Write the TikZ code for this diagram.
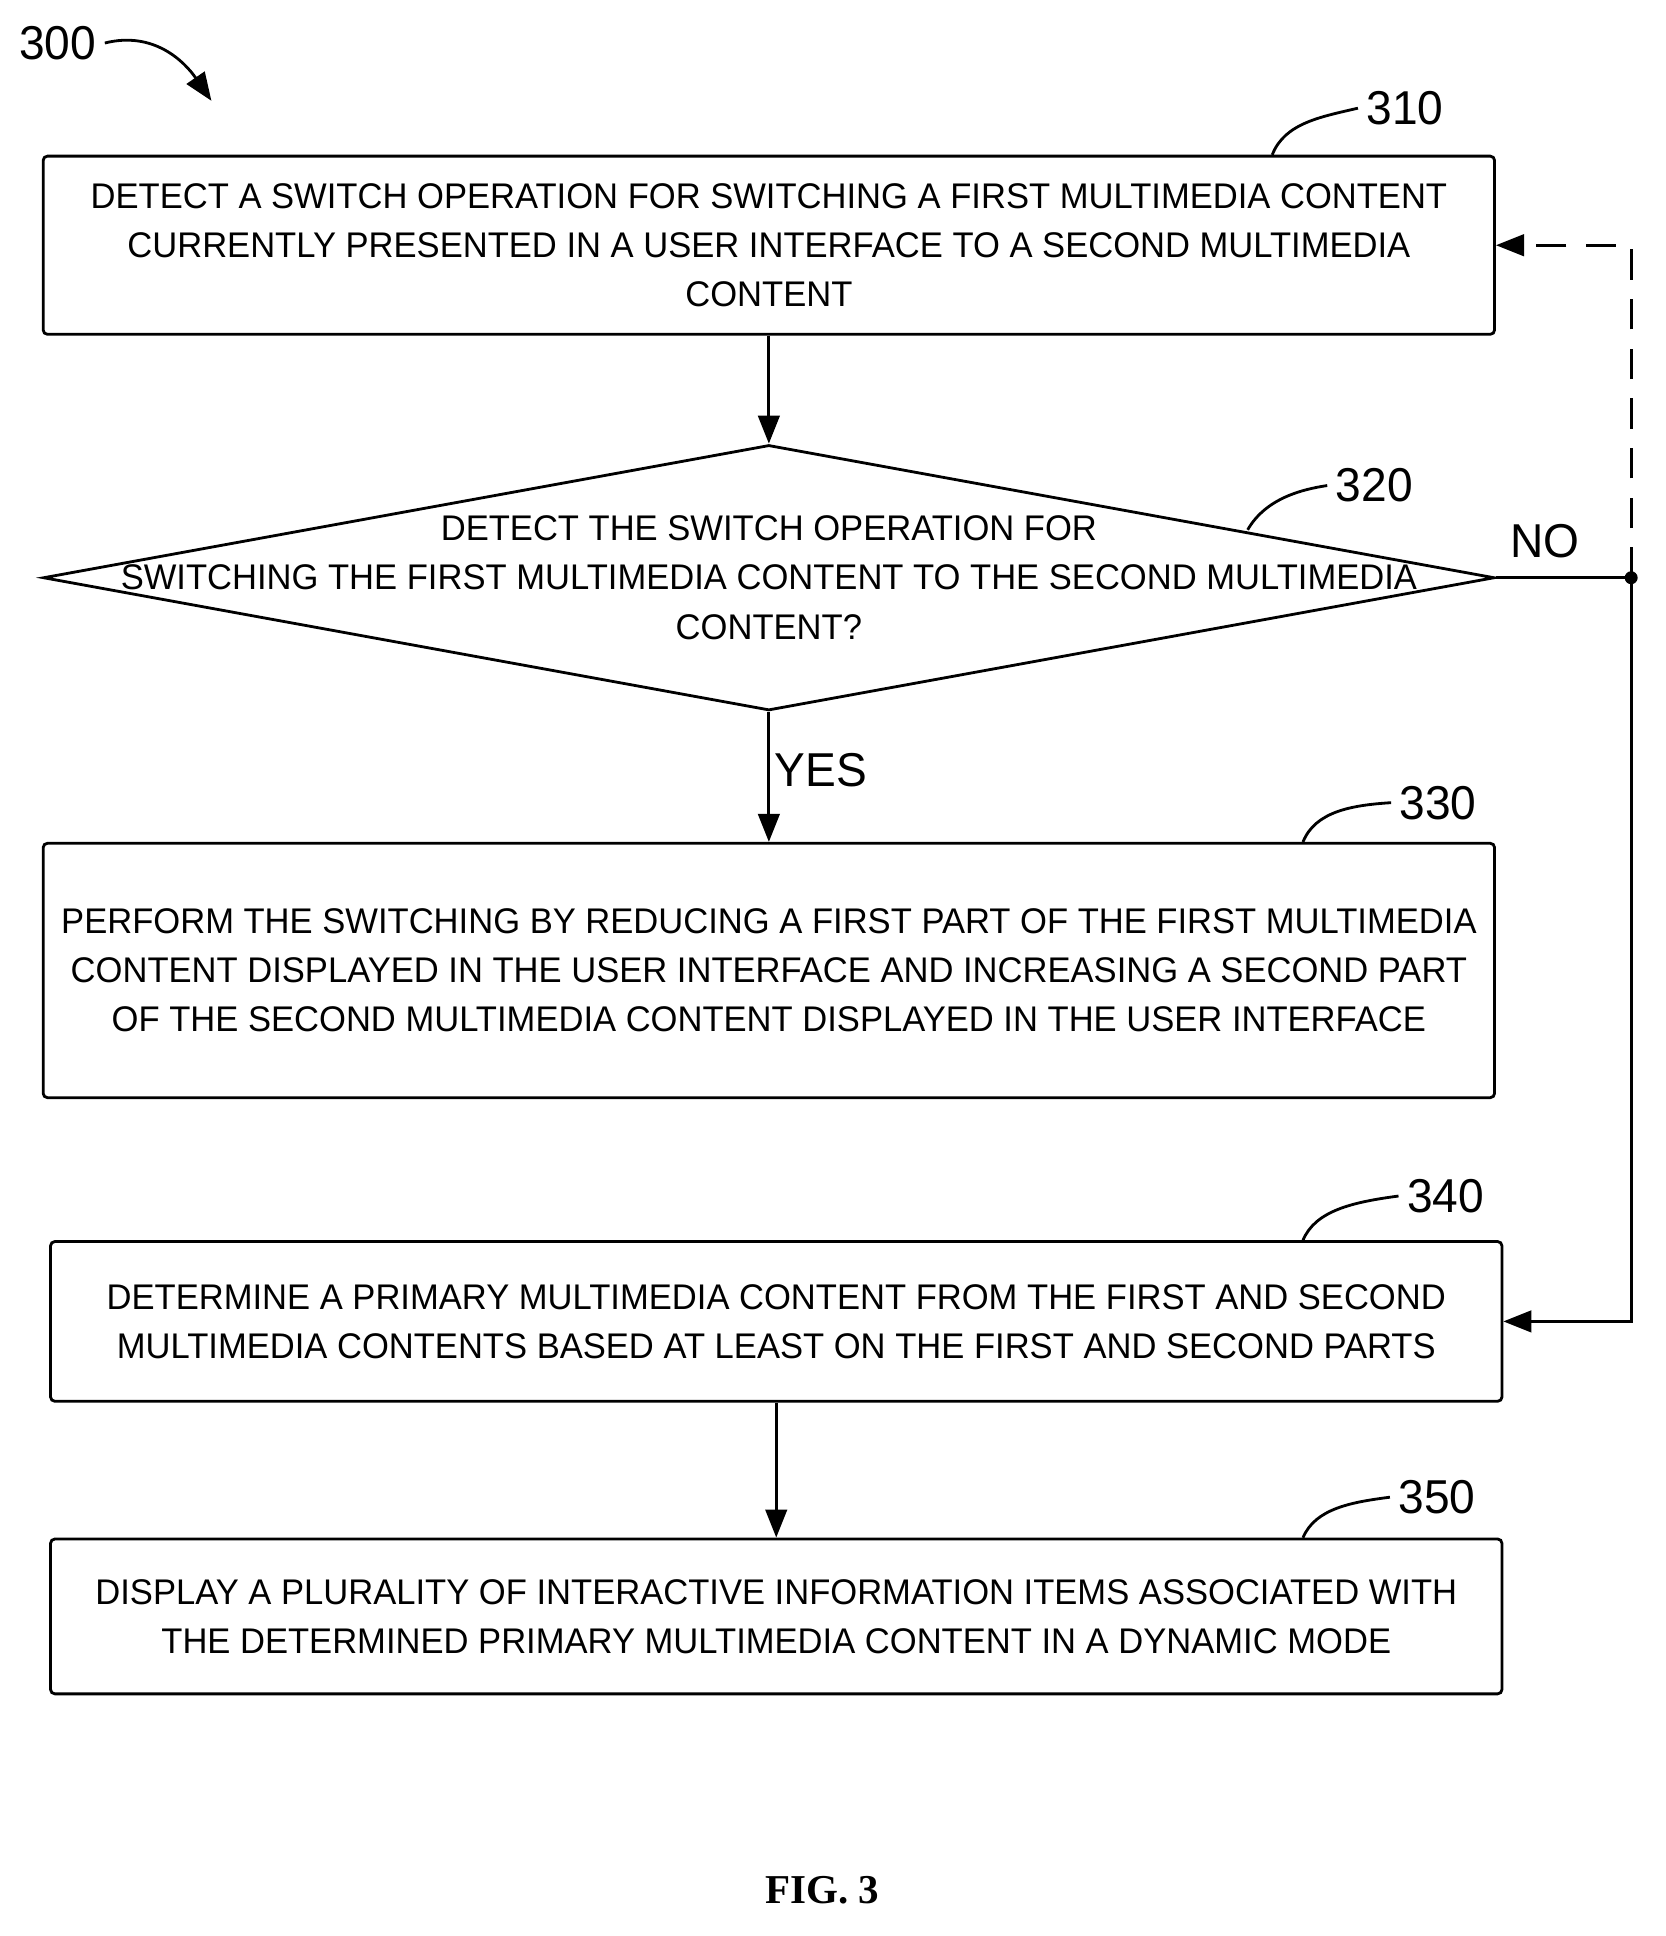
\documentclass[tikz,border=0pt]{standalone}
\usepackage{fontspec}
\setmainfont{Liberation Sans}[FakeStretch=0.97]
\newfontfamily\figfont{Liberation Serif}
\usetikzlibrary{shapes.geometric,arrows.meta}
\begin{document}
\begin{tikzpicture}[x=0.02cm,y=-0.02cm,line width=1.3pt,
	stepbox/.style={draw, rounded corners=2pt, minimum width=23.62cm, align=center,
		font=\fontsize{16.5}{22.7}\selectfont},
	ref/.style={font=\fontsize{22}{24}\selectfont},
	flow/.style={-{Triangle[length=13pt,width=10pt]}}]
	\useasboundingbox (0,0) rectangle (1355,1575);
	% Numero della figura
	\node[ref] (n300) at (47,35) {300};
	\coordinate (p300) at (172,82);
	\draw[flow] (n300.east) .. controls (125,25) and (150,50) .. (p300);
	
	% Blocco 310
	\node[stepbox, minimum height=2.9cm] (s310) at (625.5,199.5) {DETECT A SWITCH OPERATION FOR SWITCHING A FIRST MULTIMEDIA CONTENT\\CURRENTLY PRESENTED IN A USER INTERFACE TO A SECOND MULTIMEDIA\\CONTENT};
	\node[ref] (n310) at (1143,88) {310};
	\draw (1035,126) .. controls (1045,100) and (1075,95) .. (n310.west);
	
	% Rombo 320
	\node[diamond, draw, minimum width=23.62cm, minimum height=4.32cm, inner sep=0pt] (s320) at (625.5,470) {};
	\node[align=center, font=\fontsize{16.5}{22.7}\selectfont] (t320) at (625.5,470) {DETECT THE SWITCH OPERATION FOR\\SWITCHING THE FIRST MULTIMEDIA CONTENT TO THE SECOND MULTIMEDIA\\CONTENT?};
	\node[ref] (n320) at (1118,395) {320};
	\draw (1015,431) .. controls (1030,405) and (1060,398) .. (n320.west);
	\draw[flow] (s310.south) -- (s320.north);
	
	% Blocco 330
	\node[stepbox, minimum height=4.14cm] (s330) at (625.5,789.5) {PERFORM THE SWITCHING BY REDUCING A FIRST PART OF THE FIRST MULTIMEDIA\\CONTENT DISPLAYED IN THE USER INTERFACE AND INCREASING A SECOND PART\\OF THE SECOND MULTIMEDIA CONTENT DISPLAYED IN THE USER INTERFACE};
	\node[ref] (n330) at (1170,653) {330};
	\draw (1060,685) .. controls (1070,660) and (1100,655) .. (n330.west);
	\draw[flow] (s320.south) -- (s330.north) node[pos=0.45, right, ref, inner sep=2pt] (yes) {YES};
	
	% Blocco 340
	\node[stepbox, minimum height=2.6cm] (s340) at (631.5,1075) {DETERMINE A PRIMARY MULTIMEDIA CONTENT FROM THE FIRST AND SECOND\\MULTIMEDIA CONTENTS BASED AT LEAST ON THE FIRST AND SECOND PARTS};
	\node[ref] (n340) at (1176,973) {340};
	\draw (1060,1009) .. controls (1070,985) and (1100,978) .. (n340.west);
	
	% Ramo NO
	\coordinate (j320) at (1327,470);
	\fill (j320) circle (3pt);
	\node[ref] (no) at (1257,440) {NO};
	\draw (s320.east) -- (j320);
	\draw[flow] (j320) |- (s340.east);
	\draw[flow, dash pattern=on 14pt off 9pt] (j320) |- (s310.east);
	
	% Blocco 350
	\node[stepbox, minimum height=2.52cm] (s350) at (631.5,1315) {DISPLAY A PLURALITY OF INTERACTIVE INFORMATION ITEMS ASSOCIATED WITH\\THE DETERMINED PRIMARY MULTIMEDIA CONTENT IN A DYNAMIC MODE};
	\node[ref] (n350) at (1169,1218) {350};
	\draw (1060,1251) .. controls (1070,1227) and (1100,1222) .. (n350.west);
	\draw[flow] (s340.south) -- (s350.north);
	
	\node[font=\figfont\bfseries\fontsize{19}{22}\selectfont] (fig) at (669,1538) {FIG. 3};
\end{tikzpicture}
\end{document}
